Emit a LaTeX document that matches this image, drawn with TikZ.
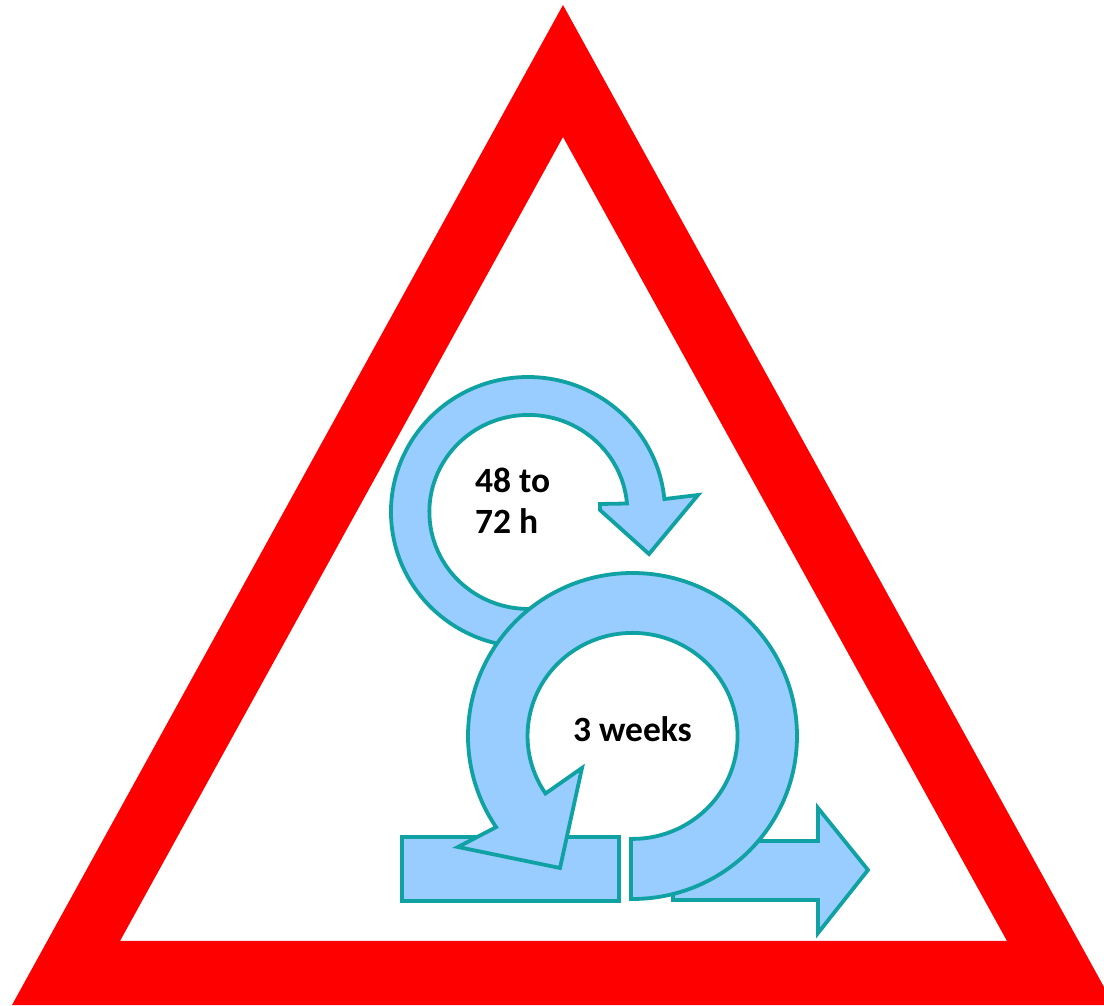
\documentclass[tikz,border=0pt]{standalone}
\usepackage{fontspec}
\setmainfont{Carlito}
\tikzset{
  flow/.style={draw=tealline,fill=flowblue,line width=3.8pt,line join=miter,miter limit=10},
  lbl/.style={inner sep=0pt,outer sep=0pt,anchor=base west,text=black,font=\fontsize{35.5}{41}\selectfont\bfseries}
}
\definecolor{tealline}{HTML}{10A2A2}
\definecolor{flowblue}{HTML}{99CCFF}
\begin{document}
\begin{tikzpicture}[x=1pt,y=1pt]
\useasboundingbox (0,0) rectangle (1104,1005);
% warning triangle (y measured upward: y' = 1005 - y)
\fill[red,even odd rule] (563,1000) -- (1104,18) -- (1104,0) -- (12,0) -- cycle
  (563,868) -- (120,64) -- (1007,64) -- cycle;
% small loop arrow
\draw[flow] (528,493)++(-80:137 and 135) coordinate (smallOuterStart)
  arc[start angle=-80,end angle=-354.5,x radius=137,y radius=135]
  -- (698,510) -- (649,451) -- (600,495) -- (600,501) -- (627,501.5)
  arc[start angle=-355,end angle=-80,x radius=99,y radius=97] -- cycle;
% input bar
\draw[flow] (402,168) rectangle (619,104);
% output arrow
\draw[flow] (673,105) -- (673,164) -- (818,164) -- (818,197) -- (868,135) -- (818,72) -- (818,105) -- cycle;
% big loop arrow
\draw[flow] (632.5,106)
  arc[start angle=-90,end angle=214,x radius=164.5,y radius=163]
  -- (458,158) -- (560,137) -- (582,237) -- (545.5,211.5)
  arc[start angle=214,end angle=-90,x radius=105,y radius=103]
  -- (631,166) -- (631,106) -- cycle;
\node[lbl] (shortcycle) at (475,512) {48 to};
\node[lbl] (shortcycleb) at (475,471) {72 h};
\node[lbl] (longcycle) at (573,263.5) {3 weeks};
\end{tikzpicture}
\end{document}
